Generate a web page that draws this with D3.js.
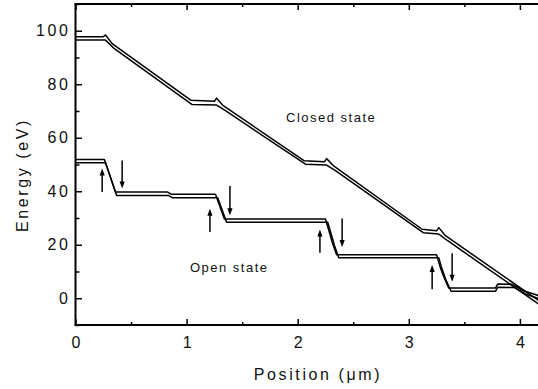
<!DOCTYPE html>
<html>
<head>
<meta charset="utf-8">
<script src="https://cdn.jsdelivr.net/npm/d3@7"></script>
<style>
  body { margin: 0; background: #fff; }
  text { font-family: "Liberation Sans", Arial, sans-serif; fill: #111; }
</style>
</head>
<body>
<div class="chart"></div>
<script>
// closed state, two traces (upper / lower)
var closedUpperX = [0, 0.25, 0.27, 0.33, 1.04, 1.25, 1.27, 1.33, 2.06, 2.24, 2.26, 2.32, 3.12, 3.25, 3.27, 3.33, 4.2];
var closedUpperY = [97.8, 97.8, 98.4, 95.2, 74.0, 73.6, 74.8, 72.0, 51.4, 51.0, 52.2, 49.6, 25.8, 25.2, 26.4, 23.4, -1.8];
var closedLowerX = [0, 0.27, 0.35, 1.05, 1.27, 1.35, 2.07, 2.26, 2.34, 3.13, 3.27, 3.35, 4.2];
var closedLowerY = [96.5, 96.5, 93.3, 72.4, 72.2, 70.1, 50.1, 49.8, 47.7, 24.5, 24.0, 21.5, -3.1];

// open state, two traces (upper / lower)
var openUpperX = [0, 0.26, 0.36, 0.83, 0.86, 1.26, 1.34, 2.25, 2.29, 2.31, 2.35, 3.25, 3.28, 3.31, 3.36, 3.78, 3.80, 3.93, 4.03, 4.2];
var openUpperY = [51.9, 51.9, 39.7, 39.7, 38.9, 38.9, 29.6, 29.6, 24.0, 21.0, 16.3, 16.3, 12.0, 8.5, 3.8, 3.8, 5.3, 5.2, 2.8, 0.6];
var openLowerX = [0, 0.27, 0.37, 0.84, 0.87, 1.28, 1.36, 2.27, 2.31, 2.33, 2.37, 3.27, 3.30, 3.33, 3.38, 3.78, 3.80, 3.95, 4.05, 4.2];
var openLowerY = [50.7, 50.7, 38.4, 38.4, 37.6, 37.6, 28.4, 28.4, 22.8, 19.8, 15.1, 15.1, 10.8, 7.3, 2.6, 2.6, 4.1, 4.0, 1.6, -0.6];

// arrows: position, start energy, end energy
var arrowX = [0.24, 0.42, 1.21, 1.39, 2.20, 2.40, 3.21, 3.39];
var arrowFrom = [39.7, 51.5, 24.8, 42.0, 17.0, 29.8, 3.4, 16.8];
var arrowTo = [48.5, 41.0, 33.5, 31.0, 25.7, 19.2, 12.4, 6.2];

var xTicks = [0, 1, 2, 3, 4];
var xMinor = [0.5, 1.5, 2.5, 3.5];
var yTicks = [0, 20, 40, 60, 80, 100];
var yMinor = [-10, 10, 30, 50, 70, 90, 110];

var W = 538, H = 389;
var mLeft = 75.5, mTop = 4, mBottom = 325;

var svg = d3.select('.chart')
    .append('svg')
    .attr('width', W)
    .attr('height', H);

var x = d3.scaleLinear().domain([0, 4.2]).range([mLeft, mLeft + 4.2 * 111.1]);
var y = d3.scaleLinear().domain([-10, 110]).range([mBottom, mTop]);

svg.append('clipPath').attr('id', 'plot')
    .append('rect')
    .attr('x', mLeft).attr('y', mTop)
    .attr('width', W - mLeft).attr('height', mBottom - mTop);

function zip(xs, ys) {
    return xs.map(function (v, i) { return [v, ys[i]]; });
}

var line = d3.line()
    .x(function (d) { return x(d[0]); })
    .y(function (d) { return y(d[1]); });

var traces = [
    zip(closedUpperX, closedUpperY),
    zip(closedLowerX, closedLowerY),
    zip(openUpperX, openUpperY),
    zip(openLowerX, openLowerY)
];

svg.append('g')
    .attr('clip-path', 'url(#plot)')
    .selectAll('path')
    .data(traces)
    .enter()
    .append('path')
    .attr('d', line)
    .attr('fill', 'none')
    .attr('stroke', '#000')
    .attr('stroke-width', 1.5)
    .attr('stroke-linejoin', 'round');

// arrows
var arrows = svg.append('g');
arrowX.forEach(function (ax, i) {
    var px = x(ax);
    var y0 = y(arrowFrom[i]);
    var y1 = y(arrowTo[i]);
    var dir = y1 < y0 ? -1 : 1;
    arrows.append('line')
        .attr('x1', px).attr('x2', px)
        .attr('y1', y0).attr('y2', y1 - dir * 5)
        .attr('stroke', '#000')
        .attr('stroke-width', 1.5);
    arrows.append('path')
        .attr('d', 'M' + px + ',' + y1 +
            'L' + (px - 2.6) + ',' + (y1 - dir * 7) +
            'L' + (px + 2.6) + ',' + (y1 - dir * 7) + 'Z')
        .attr('fill', '#000');
});

// axes (ticks inward)
function styleAxis(g) {
    g.attr('font-size', null).attr('font-family', null);
    g.select('.domain').remove();
    g.selectAll('.tick line').attr('stroke', '#000').attr('stroke-width', 1.5);
    g.selectAll('text')
        .attr('font-size', 16)
        .attr('fill', '#111')
        .style('letter-spacing', '2.6px');
}

svg.append('g')
    .attr('transform', 'translate(0,' + mBottom + ')')
    .call(d3.axisBottom(x).tickValues(xTicks).tickSize(-6).tickPadding(11.5).tickFormat(d3.format('d')))
    .call(styleAxis)
    .selectAll('text').attr('dx', '1.3');

svg.append('g')
    .attr('transform', 'translate(0,' + mBottom + ')')
    .call(d3.axisBottom(x).tickValues(xMinor).tickSize(-3).tickFormat(''))
    .call(styleAxis);

svg.append('g')
    .attr('transform', 'translate(0,' + mTop + ')')
    .call(d3.axisTop(x).tickValues(xTicks).tickSize(-6).tickFormat(''))
    .call(styleAxis);

svg.append('g')
    .attr('transform', 'translate(0,' + mTop + ')')
    .call(d3.axisTop(x).tickValues(xMinor).tickSize(-3).tickFormat(''))
    .call(styleAxis);

svg.append('g')
    .attr('transform', 'translate(' + mLeft + ',0)')
    .call(d3.axisLeft(y).tickValues(yTicks).tickSize(-6.5).tickPadding(5).tickFormat(d3.format('d')))
    .call(styleAxis);

svg.append('g')
    .attr('transform', 'translate(' + mLeft + ',0)')
    .call(d3.axisLeft(y).tickValues(yMinor).tickSize(-4).tickFormat(''))
    .call(styleAxis);

// frame lines
svg.append('line')
    .attr('x1', mLeft).attr('x2', mLeft)
    .attr('y1', mTop).attr('y2', mBottom)
    .attr('stroke', '#000').attr('stroke-width', 2);
svg.append('line')
    .attr('x1', mLeft - 1).attr('x2', W)
    .attr('y1', mBottom).attr('y2', mBottom)
    .attr('stroke', '#000').attr('stroke-width', 2);
svg.append('line')
    .attr('x1', mLeft - 1).attr('x2', W)
    .attr('y1', mTop).attr('y2', mTop)
    .attr('stroke', '#000').attr('stroke-width', 2);

// labels
svg.append('text')
    .attr('x', 318).attr('y', 380)
    .attr('text-anchor', 'middle')
    .attr('font-size', 16)
    .style('letter-spacing', '2.6px')
    .text('Position (μm)');

svg.append('text')
    .attr('transform', 'translate(28,175) rotate(-90)')
    .attr('text-anchor', 'middle')
    .attr('font-size', 16)
    .style('letter-spacing', '2.6px')
    .text('Energy (eV)');

svg.append('text')
    .attr('x', x(1.895)).attr('y', y(65.8))
    .attr('font-size', 13)
    .style('letter-spacing', '1.5px')
    .text('Closed state');

svg.append('text')
    .attr('x', x(1.03)).attr('y', y(9.9))
    .attr('font-size', 13)
    .style('letter-spacing', '1.5px')
    .text('Open state');
</script>
</body>
</html>
